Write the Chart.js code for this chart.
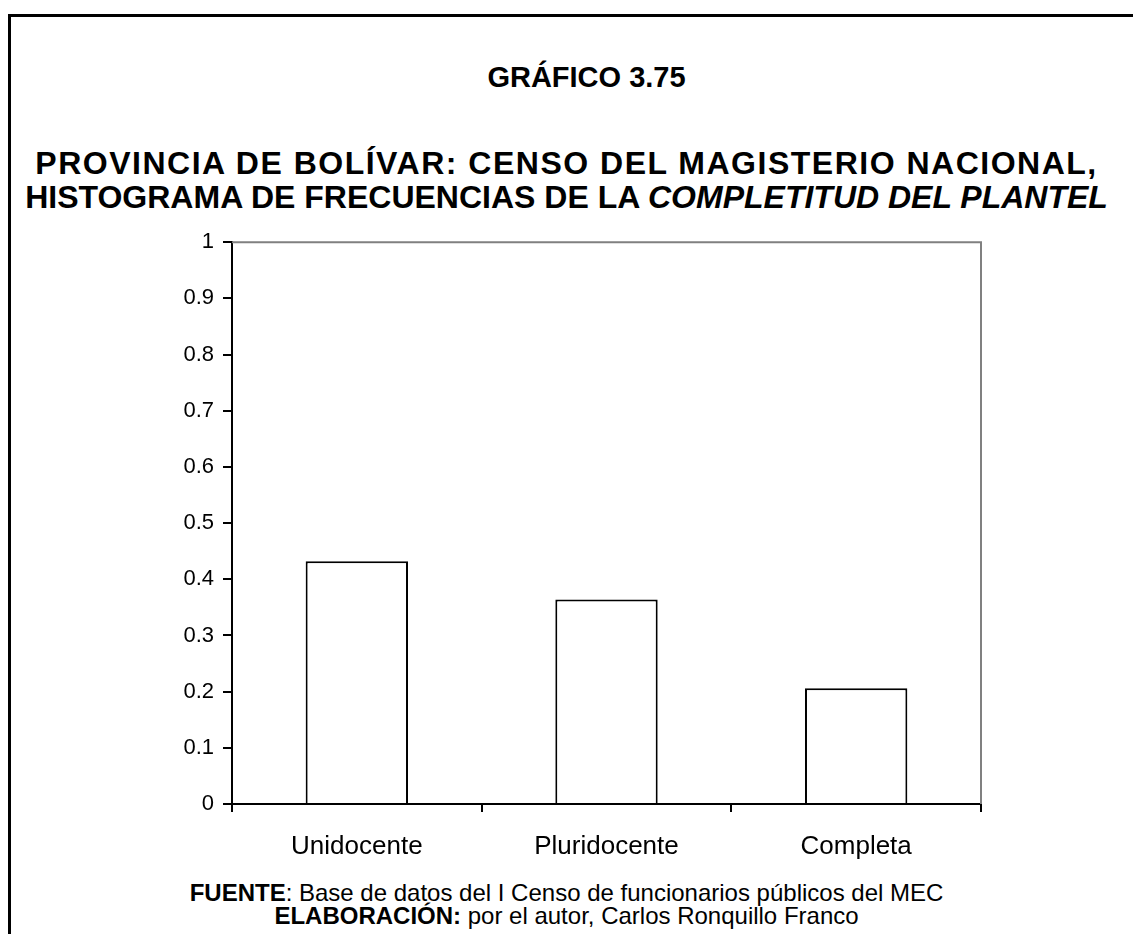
<!DOCTYPE html>
<html>
<head>
<meta charset="utf-8">
<script src="https://cdn.jsdelivr.net/npm/chart.js@4/dist/chart.umd.min.js"></script>
<style>
  body { margin: 0; background: #fff; font-family: "Liberation Sans", Arial, sans-serif; }
  #page { position: relative; width: 1133px; height: 934px; overflow: hidden; }
  #frame { position: absolute; left: 8px; top: 14px; width: 2000px; height: 2000px;
           border-left: 3px solid #000; border-top: 3px solid #000; }
  .t { position: absolute; left: 0; width: 1133px; text-align: center; font-weight: bold; color: #000; white-space: nowrap; }
  #title { top: 60px; left: 20px; font-size: 29px; line-height: 34px; }
  #sub { top: 146px; font-size: 32px; line-height: 34px; }
  #sub .l1 { letter-spacing: 1.5px; }
  #foot { top: 881px; font-size: 24px; line-height: 23px; font-weight: normal; }
  #box { position: absolute; left: 0; top: 220px; width: 1133px; height: 650px; }
</style>
</head>
<body>
<div id="page">
  <div id="frame"></div>
  <div class="t" id="title">GRÁFICO 3.75</div>
  <div class="t" id="sub"><span class="l1">PROVINCIA DE BOLÍVAR: CENSO DEL MAGISTERIO NACIONAL,</span><br>HISTOGRAMA DE FRECUENCIAS DE LA <i>COMPLETITUD DEL PLANTEL</i></div>
  <div id="box"><canvas id="chart"></canvas></div>
  <div class="t" id="foot"><b>FUENTE</b>: Base de datos del I Censo de funcionarios públicos del MEC<br><b>ELABORACIÓN:</b> por el autor, Carlos Ronquillo Franco</div>
</div>
<script>
// plantel types and their relative frequencies
const categories = ["Unidocente", "Pluridocente", "Completa"];
const frequencies = [0.432, 0.364, 0.206];

// gray frame on top and right of the plot area
const plotFrame = {
    id: 'plotFrame',
    afterDraw(chart) {
        const a = chart.chartArea;
        const ctx = chart.ctx;
        ctx.save();
        ctx.strokeStyle = '#808080';
        ctx.lineWidth = 2;
        ctx.beginPath();
        ctx.moveTo(a.left, a.top);
        ctx.lineTo(a.right, a.top);
        ctx.lineTo(a.right, a.bottom);
        ctx.stroke();
        ctx.restore();
    }
};

new Chart(document.getElementById("chart"), {
    type: 'bar',
    data: {
        labels: categories,
        datasets: [{
            data: frequencies,
            backgroundColor: '#ffffff',
            borderColor: '#000000',
            borderWidth: 2,
            barPercentage: 0.41,
            categoryPercentage: 1
        }]
    },
    options: {
        responsive: true,
        maintainAspectRatio: false,
        animation: false,
        layout: { padding: { left: 0, right: 152, top: 18, bottom: 0 } },
        plugins: { legend: { display: false }, tooltip: { enabled: false } },
        scales: {
            x: {
                grid: { offset: true, drawOnChartArea: false, drawTicks: true, tickLength: 8, color: '#000', lineWidth: 2 },
                border: { color: '#000', width: 2 },
                ticks: { color: '#000', font: { family: 'Liberation Sans', size: 26 }, padding: 19 },
                afterFit(scale) { scale.height = 66; }
            },
            y: {
                min: 0,
                max: 1,
                ticks: {
                    stepSize: 0.1,
                    color: '#000',
                    font: { family: 'Liberation Sans', size: 22 },
                    padding: 9,
                    callback: (v) => String(Math.round(v * 10) / 10)
                },
                grid: { drawOnChartArea: false, drawTicks: true, tickLength: 9, color: '#000', lineWidth: 2 },
                border: { color: '#000', width: 2 },
                afterFit(scale) { scale.width = 232; }
            }
        }
    },
    plugins: [plotFrame]
});
</script>
</body>
</html>
